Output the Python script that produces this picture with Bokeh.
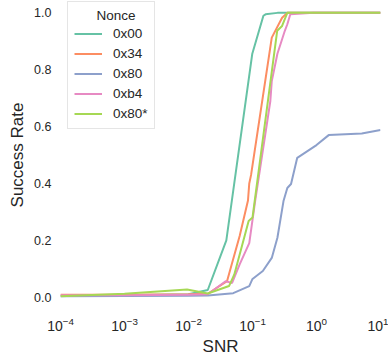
from bokeh.plotting import figure
from bokeh.models import Range1d, FixedTicker, Legend, LegendItem, NumeralTickFormatter
from bokeh.embed import file_html
from bokeh.resources import INLINE

# Data
series_names = ["0x00", "0x34", "0x80", "0xb4", "0x80*"]
colors = ["#66c2a5", "#fc8d62", "#8da0cb", "#e78ac3", "#a6d854"]

snr_0x00 = [1e-4, 1e-3, 0.01, 0.02, 0.039, 0.099, 0.148, 0.16, 0.245, 0.5, 1.0, 10]
rate_0x00 = [0.005, 0.007, 0.01, 0.025, 0.2, 0.855, 0.99, 0.995, 1.0, 1.0, 1.0, 1.0]

snr_0x34 = [1e-4, 1e-3, 0.01, 0.02, 0.04, 0.048, 0.063, 0.085, 0.089, 0.095, 0.2, 0.29, 0.35, 10]
rate_0x34 = [0.008, 0.008, 0.01, 0.012, 0.056, 0.12, 0.215, 0.34, 0.40, 0.43, 0.913, 0.983, 1.0, 1.0]

snr_0x80 = [1e-4, 1e-3, 0.01, 0.02, 0.05, 0.089, 0.1, 0.145, 0.2, 0.245, 0.305, 0.35, 0.4, 0.5, 1.0, 1.55, 5.1, 10]
rate_0x80 = [0.003, 0.004, 0.005, 0.006, 0.014, 0.039, 0.064, 0.092, 0.138, 0.209, 0.338, 0.384, 0.398, 0.49, 0.535, 0.57, 0.576, 0.588]

snr_0xb4 = [1e-4, 1e-3, 0.01, 0.02, 0.038, 0.048, 0.063, 0.089, 0.11, 0.19, 0.2, 0.245, 0.32, 0.35, 0.39, 0.9, 10]
rate_0xb4 = [0.007, 0.007, 0.008, 0.01, 0.056, 0.05, 0.115, 0.19, 0.338, 0.69, 0.76, 0.856, 0.937, 0.96, 0.995, 1.0, 1.0]

snr_0x80s = [1e-4, 1e-3, 0.0095, 0.02, 0.043, 0.052, 0.087, 0.1, 0.243, 0.29, 0.35, 10]
rate_0x80s = [0.003, 0.012, 0.027, 0.013, 0.039, 0.08, 0.268, 0.28, 0.937, 0.954, 1.0, 1.0]

y_ticks = [0.0, 0.2, 0.4, 0.6, 0.8, 1.0]

all_x = [snr_0x00, snr_0x34, snr_0x80, snr_0xb4, snr_0x80s]
all_y = [rate_0x00, rate_0x34, rate_0x80, rate_0xb4, rate_0x80s]

FONT = "Liberation Sans"
TXT = "#262626"

p = figure(frame_width=320, frame_height=307, x_axis_type="log",
           x_range=Range1d(1e-4, 10), y_range=Range1d(-0.04, 1.04),
           output_backend="svg", toolbar_location=None,
           min_border_left=60, min_border_right=8, min_border_top=1, min_border_bottom=51)
p.outline_line_color = None
p.grid.visible = False
p.background_fill_color = "white"

for ax in (p.xaxis[0], p.yaxis[0]):
    ax.axis_line_color = None
    ax.major_tick_line_color = None
    ax.minor_tick_line_color = None
    ax.major_tick_out = 0
    ax.major_tick_in = 0
    ax.minor_tick_out = 0
    ax.minor_tick_in = 0
    ax.major_label_text_font = FONT
    ax.major_label_text_color = TXT
    ax.axis_label_text_font = FONT
    ax.axis_label_text_font_size = "17px"
    ax.axis_label_text_font_style = "normal"
    ax.axis_label_text_color = TXT

p.xaxis.major_label_text_font_size = "14px"
p.yaxis.major_label_text_font_size = "12.5px"
p.xaxis.axis_label = "SNR"
p.yaxis.axis_label = "Success Rate"
p.yaxis.ticker = FixedTicker(ticks=y_ticks)
p.yaxis.formatter = NumeralTickFormatter(format="0.0")
p.xaxis.major_label_standoff = 8
p.yaxis.major_label_standoff = 9
p.xaxis.axis_label_standoff = 3
p.yaxis.axis_label_standoff = 4

items = []
for name, c, xs, ys in zip(series_names, colors, all_x, all_y):
    r = p.line(xs, ys, line_color=c, line_width=2)
    items.append(LegendItem(label=name, renderers=[r]))

legend = Legend(items=items, location=(7, 179), title="\u00a0\u00a0\u00a0\u00a0\u00a0\u00a0Nonce",
                title_text_font=FONT, title_text_font_size="13.5px",
                title_text_font_style="normal", title_text_color=TXT, title_standoff=2,
                label_text_font=FONT, label_text_font_size="13.5px", label_text_color=TXT,
                glyph_width=28, glyph_height=17, label_standoff=11, spacing=3,
                padding=6, border_line_color="#cccccc", border_line_width=1,
                background_fill_color="white", background_fill_alpha=0.8)
p.add_layout(legend)

open("out.html", "w").write(file_html(p, INLINE))
